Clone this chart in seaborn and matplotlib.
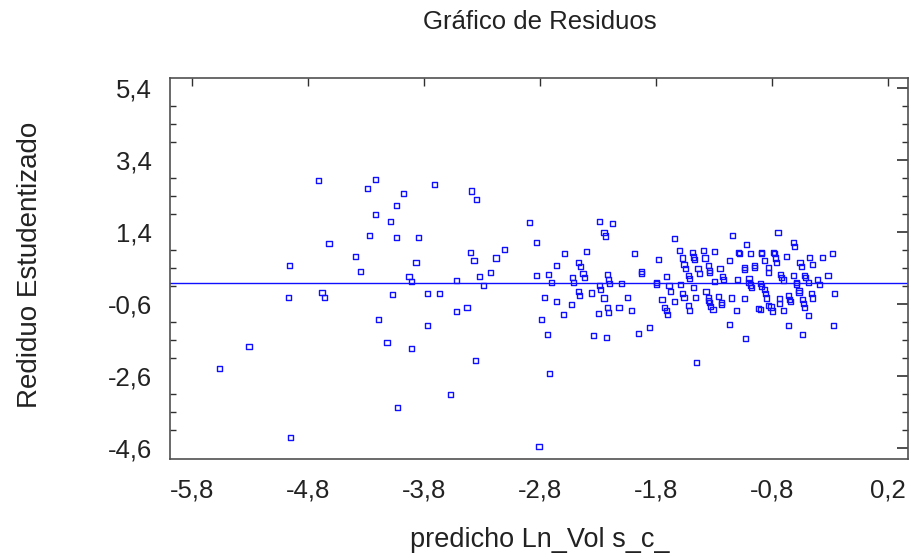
import matplotlib
matplotlib.use("Agg")
import matplotlib.pyplot as plt
from matplotlib import font_manager
from matplotlib.ticker import FixedLocator
import numpy as np
import pandas as pd
import seaborn as sns

# ---- data ----
pred = [
    -4.71, -4.29, -4.27, -4.62, -4.39, -4.96, -4.35, -4.68, -4.66, -4.97, -5.31, -5.56, -4.95,
    -4.22, -3.98, -3.71, -3.39, -3.35, -4.04, -4.22, -4.09, -2.89, -4.04, -3.85, -2.83, -3.11,
    -3.40, -3.37, -3.18, -3.87, -2.66, -3.93, -3.91, -3.52, -3.32, -3.23, -3.29, -2.83, -2.73,
    -2.70, -4.07, -3.77, -3.67, -2.76, -2.66, -3.52, -3.43, -4.19, -2.79, -3.77, -2.74, -4.12,
    -3.91, -3.36, -2.72, -3.57, -4.03, -2.81,
    -2.29, -2.18, -2.25, -2.24, -2.59, -2.40, -1.99, -2.47, -2.45, -2.43, -2.42, -2.52, -2.22,
    -2.51, -2.21, -2.20, -2.10, -2.29, -2.28, -2.47, -2.46, -2.36, -2.25, -2.05, -2.53, -2.22,
    -2.21, -2.12, -2.01, -2.60, -2.30, -2.34, -2.23,
    -1.64, -1.60, -1.49, -1.39, -1.30, -1.78, -1.57, -1.48, -1.47, -1.38, -1.56, -1.55, -1.44,
    -1.35, -1.43, -1.34, -1.34, -1.25, -1.93, -1.93, -1.71, -1.52, -1.51, -1.23, -1.22, -1.80,
    -1.80, -1.30, -1.69, -1.59, -1.48, -1.68, -1.37, -1.57, -1.56, -1.46, -1.35, -1.26, -1.75,
    -1.64, -1.35, -1.34, -1.24, -1.24, -1.52, -1.33, -1.31, -1.73, -1.71, -1.51, -1.70, -1.86,
    -1.95,
    -0.75, -1.14, -1.02, -0.62, -0.61, -1.09, -1.08, -0.99, -0.89, -0.89, -0.79, -0.78, -0.77,
    -0.68, -0.48, -1.17, -0.87, -0.76, -0.56, -0.55, -0.45, -1.04, -1.04, -0.95, -0.95, -0.83,
    -0.83, -0.73, -0.72, -0.70, -0.62, -0.52, -0.51, -1.10, -1.00, -1.00, -0.99, -0.98, -0.90,
    -0.89, -0.87, -0.86, -0.85, -0.59, -0.59, -0.49, -0.57, -0.57, -0.46, -0.45, -0.74, -0.66,
    -0.65, -0.64, -0.54, -0.53, -0.52, -1.15, -1.04, -0.74, -0.83, -0.81, -0.92, -0.90, -0.80,
    -0.70, -1.11, -0.49, -1.17, -0.66, -1.03, -0.54,
    -0.28, -0.37, -0.32, -0.41, -0.39, -0.26, -0.27,
    -1.45,
]
resid = [
    2.83, 2.61, 1.30, 1.09, 0.72, 0.47, 0.30, -0.27, -0.41, -0.41, -1.77, -2.38, -4.30,
    2.86, 2.47, 2.73, 2.54, 2.30, 2.15, 1.90, 1.69, 1.66, 1.24, 1.26, 1.12, 0.91,
    0.84, 0.62, 0.68, 0.55, 0.48, 0.16, 0.02, 0.05, 0.16, 0.27, -0.09, 0.20, 0.22,
    0.01, -0.34, -0.30, -0.30, -0.41, -0.52, -0.80, -0.69, -1.02, -1.02, -1.19, -1.45, -1.66,
    -1.84, -2.16, -2.52, -3.10, -3.48, -4.56,
    1.69, 1.65, 1.40, 1.29, 0.81, 0.87, 0.81, 0.56, 0.44, 0.26, 0.13, 0.15, 0.23,
    0.01, 0.07, -0.03, -0.03, -0.08, -0.20, -0.24, -0.35, -0.29, -0.43, -0.41, -0.60, -0.69,
    -0.83, -0.69, -0.77, -0.89, -0.85, -1.48, -1.52,
    1.23, 0.90, 0.84, 0.90, 0.87, 0.65, 0.68, 0.71, 0.65, 0.68, 0.51, 0.40, 0.40,
    0.48, 0.26, 0.33, 0.28, 0.40, 0.30, 0.25, 0.16, 0.20, 0.11, 0.17, 0.08, 0.00,
    -0.04, 0.02, -0.09, -0.06, -0.13, -0.24, -0.24, -0.31, -0.41, -0.41, -0.41, -0.38, -0.48,
    -0.52, -0.49, -0.55, -0.55, -0.61, -0.63, -0.66, -0.74, -0.69, -0.77, -0.77, -0.89, -1.24,
    -1.41,
    1.39, 1.30, 1.05, 1.11, 1.01, 0.84, 0.80, 0.80, 0.84, 0.80, 0.84, 0.80, 0.68,
    0.73, 0.70, 0.62, 0.61, 0.56, 0.56, 0.44, 0.51, 0.42, 0.36, 0.48, 0.41, 0.41,
    0.27, 0.23, 0.13, 0.07, 0.19, 0.19, 0.13, 0.09, 0.12, 0.00, -0.07, -0.14, -0.03,
    -0.11, -0.20, -0.30, -0.43, -0.04, 0.01, 0.00, -0.23, -0.27, -0.30, -0.43, -0.44, -0.35,
    -0.48, -0.52, -0.48, -0.58, -0.69, -0.43, -0.45, -0.59, -0.63, -0.68, -0.71, -0.74, -0.79,
    -0.77, -0.77, -0.91, -1.16, -1.20, -1.55, -1.45,
    0.81, 0.69, 0.20, 0.09, -0.06, -0.31, -1.20,
    -2.22,
]

x_ticks = [-5.8, -4.8, -3.8, -2.8, -1.8, -0.8, 0.2]
x_labels = ["-5,8", "-4,8", "-3,8", "-2,8", "-1,8", "-0,8", "0,2"]
y_ticks = [-4.6, -2.6, -0.6, 1.4, 3.4, 5.4]
y_labels = ["-4,6", "-2,6", "-0,6", "1,4", "3,4", "5,4"]

title = "Gráfico de Residuos"
xlabel = "predicho Ln_Vol s_c_"
ylabel = "Rediduo Estudentizado"

# ---- style ----
sns.set_theme(style="white")
names = {f.name for f in font_manager.fontManager.ttflist}
fam = "Liberation Sans Narrow" if "Liberation Sans Narrow" in names else "Liberation Sans"
plt.rcParams["font.family"] = [fam, "DejaVu Sans"]

df = pd.DataFrame({"pred": pred, "resid": resid})

fig = plt.figure(figsize=(9.12, 5.59), dpi=100)
ax = fig.add_axes([170 / 912, 1 - 459 / 559, (908 - 170) / 912, (459 - 78) / 559])

blue = "#1010ff"
sns.scatterplot(data=df, x="pred", y="resid", ax=ax, marker="s", s=14,
                facecolor="none", edgecolor=blue, linewidth=1.0, zorder=3)
ax.axhline(0.0, color=blue, lw=1.0, zorder=2)

ax.set_xlim(-5.99, 0.37)
ax.set_ylim(-4.90, 5.68)

ax.xaxis.set_major_locator(FixedLocator(x_ticks))
ax.set_xticklabels(x_labels)
ax.yaxis.set_major_locator(FixedLocator(y_ticks))
ax.set_yticklabels(y_labels)
ax.yaxis.set_minor_locator(FixedLocator(np.arange(-4.6, 5.5, 0.5)))

ax.tick_params(axis="both", which="both", direction="in", top=True, right=True,
               color="#303030", labelsize=18.5, labelcolor="#222222")
ax.tick_params(axis="y", which="major", length=8, width=1.2, pad=13)
ax.tick_params(axis="y", which="minor", length=4.5, width=1.0, left=True, right=True)
ax.tick_params(axis="x", which="major", length=6, width=1.0, pad=14)

for sp in ax.spines.values():
    sp.set_color("#505050")
    sp.set_linewidth(1.2)

ax.set_xlabel(xlabel, fontsize=19.5, color="#222222")
ax.set_ylabel(ylabel, fontsize=20, color="#222222")
ax.xaxis.label.set_va("center")
ax.yaxis.label.set_va("center")
ax.xaxis.set_label_coords((540 - 170) / 738, (459 - 540) / 381)
ax.yaxis.set_label_coords((30 - 170) / 738, (459 - 265) / 381)
fig.text(540 / 912, 1 - 22 / 559, title, ha="center", va="center", fontsize=18.5, color="#222222")

fig.savefig("out.png", dpi=100)
